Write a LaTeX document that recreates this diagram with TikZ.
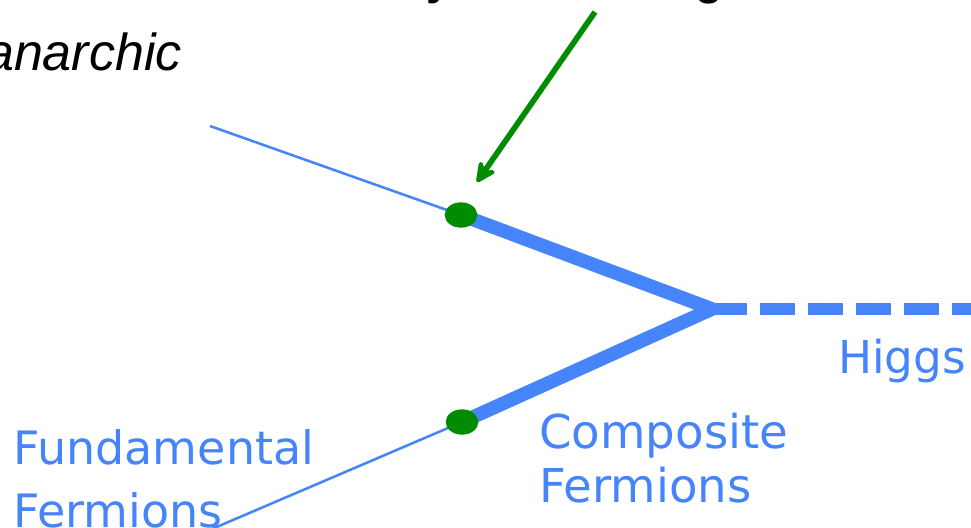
\documentclass[tikz,border=0pt]{standalone}
\usepackage{fontspec}
\setmainfont{Liberation Sans}
\newfontfamily\lblfont{DejaVu Sans}
\usetikzlibrary{arrows.meta,shapes.geometric}
\definecolor{fblue}{RGB}{70,132,250}
\definecolor{fgreen}{RGB}{0,140,0}
\tikzset{
  thinline/.style={draw=fblue, line width=1.9pt},
  thickline/.style={draw=fblue, line width=10.25pt, line join=round},
  higgsline/.style={draw=fblue, line width=9pt, dash pattern=on 26.5pt off 9.5pt},
  gdot/.style={ellipse, fill=fgreen, minimum width=24.5pt, minimum height=19pt, inner sep=0pt},
  bluelabel/.style={text=fblue, inner sep=0pt, align=left},
  pointer/.style={draw=fgreen, line width=4.25pt, -{Stealth[length=20pt, width=19pt, inset=7.5pt, round]}},
}
\begin{document}
\begin{tikzpicture}[x=0.75pt, y=-0.75pt]
\useasboundingbox (0,0) rectangle (971,528);
% top headline (mostly outside the frame)
\node[anchor=base east, inner sep=0pt, font=\bfseries\fontsize{34}{40}\selectfont] (head) at (724,-5) {hierarchy from mixing};
% italic label
\node[anchor=base east, inner sep=0pt, font=\itshape\fontsize{39}{46}\selectfont] (anar) at (182,71) {Composite sector anarchic};
% coordinates
\coordinate (s1) at (210,126);
\coordinate (s2) at (212,529);
\coordinate (v) at (712,309);
\coordinate (hend) at (975,309);
% lines
\draw[thinline] (s1) -- (461,215) coordinate (d1c);
\draw[thinline] (s2) -- (462,422) coordinate (d2c);
\draw[thickline] (d1c) -- (v) -- (d2c);
\draw[higgsline] (v) -- (hend);
% dots
\node[gdot] (d1) at (d1c) {};
\node[gdot] (d2) at (d2c) {};
% arrow
\coordinate (ast) at (595,12);
\coordinate (atip) at (477,182);
\draw[pointer] (ast) -- (atip);
% labels
\node[bluelabel, anchor=base west, font=\lblfont\fontsize{34}{40}\selectfont] (higgs) at (838,373) {Higgs};
\node[bluelabel, anchor=base west, font=\lblfont\fontsize{35}{40}\selectfont] (comp) at (539,502) {Composite\\Fermions};
\node[bluelabel, anchor=base west, font=\lblfont\fontsize{34.5}{47}\selectfont] (fund) at (13,527) {Fundamental\\Fermions};
\end{tikzpicture}
\end{document}
